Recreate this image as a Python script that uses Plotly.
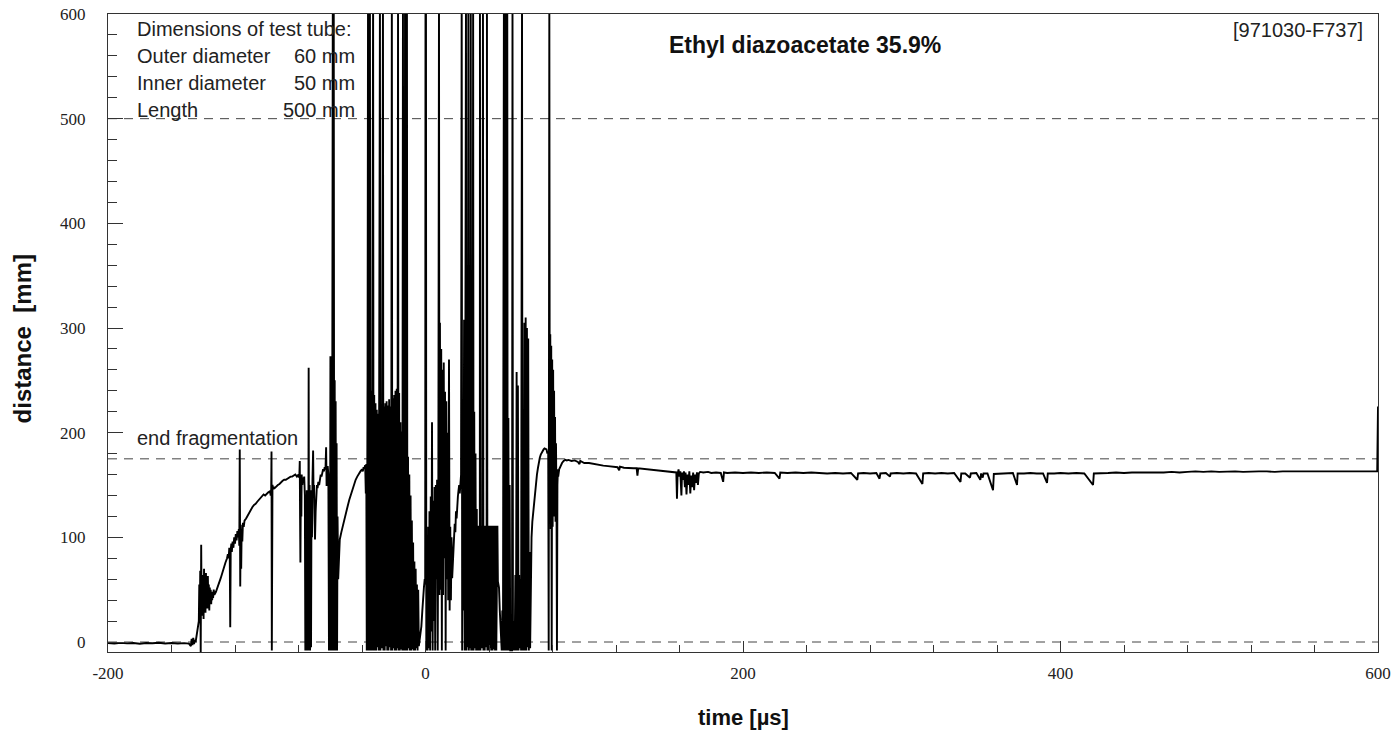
import plotly.graph_objects as go

# Streak record of the fragment front: (time in µs, distance in mm)
quiet = [(-200, -1), (-196, -1.5), (-192, -0.8), (-188, -1.3), (-184, -1), (-180, -1.6), (-176, -0.9),
         (-172, -1.2), (-168, -0.7), (-164, -1.4), (-160, -1), (-156, -1.5), (-152, -1.1), (-149, -1.6),
         (-147.8, -4), (-147.3, 3), (-146.8, -3), (-146.3, 4), (-145.8, -2), (-145.3, 2), (-144.8, 0),
         (-144.3, 5), (-143.8, 9), (-143.2, 14)]

ignition = [(-142.8, 20), (-142.5, 55), (-142.2, 22), (-141.9, 68), (-141.6, -10), (-141.3, 93), (-141.0, 25),
            (-140.7, 64), (-140.4, 30), (-140.1, 62), (-139.8, 22), (-139.5, 70), (-139.2, 35), (-138.9, 60),
            (-138.6, 28), (-138.3, 66), (-138.0, 40), (-137.7, 58), (-137.4, 32), (-137.1, 63), (-136.8, 38),
            (-136.5, 55), (-136.2, 30), (-135.9, 52), (-135.6, 42), (-135.3, 50), (-135.0, 36), (-134.7, 48),
            (-134.4, 40), (-134.1, 46), (-133.8, 42), (-133.4, 50), (-133.0, 45),
            (-132, 48), (-131, 52), (-130, 56), (-129, 61), (-128, 66), (-127, 72), (-126, 76), (-125, 80),
            (-124.5, 84), (-124, 80), (-123.6, 90), (-123.3, 82), (-123, 14), (-122.7, 88), (-122.3, 94),
            (-122, 86), (-121.5, 96), (-121, 90), (-120.5, 100), (-120, 94), (-119.5, 103), (-119, 97),
            (-118.5, 106), (-118, 100), (-117.6, 108), (-117.3, 92), (-117, 184), (-116.7, 53), (-116.4, 112),
            (-116.1, 70), (-115.8, 108), (-115.4, 96), (-115, 114), (-114.5, 110), (-114, 116)]

growth = [(-113, 118), (-112, 121), (-111, 124), (-110, 127), (-109, 129), (-108, 131), (-107, 132), (-106, 134),
          (-105, 136), (-104, 138), (-103, 139), (-102, 141), (-101, 140), (-100, 142), (-99, 143), (-98, 144),
          (-97.5, 140), (-97.2, 146), (-97, 182), (-96.8, -8), (-96.6, 140), (-96.4, 150), (-96, 146),
          (-95.5, 148), (-95, 147), (-94, 149), (-93, 150), (-92, 151), (-91, 153), (-90, 154), (-89, 155),
          (-88, 155), (-87, 156), (-86, 157), (-85, 158), (-84, 158), (-83, 159), (-82, 160), (-81, 158),
          (-80, 160), (-79.5, 157), (-79.2, 173), (-79, 118), (-78.8, 76), (-78.5, 150), (-78.2, 120),
          (-78, 160), (-77.6, 150), (-77.2, 157), (-76.8, 155), (-76.4, 158), (-76, 140), (-75.7, -8),
          (-75.4, 130), (-75.1, -8), (-74.8, 145), (-74.5, -8), (-74.2, 140), (-73.9, -6), (-73.6, 262),
          (-73.3, -8), (-73, 150), (-72.7, -8), (-72.4, 140), (-72.1, -5), (-71.8, 145), (-71.5, 100),
          (-71.2, 155), (-70.8, 183), (-70.5, 140), (-70.2, 150), (-69.9, 120), (-69.6, 98), (-69.2, 125),
          (-68.8, 140), (-68.4, 150), (-68, 147), (-67.5, 153), (-67, 150), (-66.5, 156), (-66, 160),
          (-65.5, 158), (-65, 162), (-64.5, 165), (-64, 163), (-63.5, 167), (-63, 165), (-62.6, 186),
          (-62.3, 149), (-62, 165), (-61.6, 168), (-61.2, 160)]

collapse = [(-60.8, -8), (-60.5, 150), (-60.2, -8), (-59.9, 273), (-59.6, -8), (-59.3, 200), (-59, -8),
            (-58.7, 260), (-58.4, 620), (-58.1, -8), (-57.8, 620), (-57.5, -8), (-57.2, 250), (-56.9, -8),
            (-56.6, 230), (-56.3, -8), (-56, 190), (-55.7, -8), (-55.4, 120), (-55, 60), (-54.5, 95),
            (-54, 98), (-53, 105), (-52, 112), (-51, 118), (-50, 124), (-49, 130), (-48, 136), (-47, 141),
            (-46, 146), (-45, 151), (-44, 155), (-43, 158), (-42, 161), (-41, 163), (-40, 165), (-39.5, 163),
            (-39, 167), (-38.5, 166), (-38, 169), (-37.6, 142), (-37.3, 170)]

breakup = [(-37.0, -8), (-36.5, 255), (-36.2, 620), (-35.9, -8), (-35.5, 262), (-35.0, 620), (-34.7, -8),
           (-34.3, 240), (-33.9, -8), (-33.5, 250), (-33.0, 620), (-32.7, -8), (-32.3, 236), (-31.9, -8),
           (-31.5, 228), (-31.1, -8), (-30.7, 222), (-30.3, -5), (-29.9, 218), (-29.5, -8), (-29.1, 215),
           (-28.7, 620), (-28.4, -8), (-28.0, 220), (-27.6, -6), (-27.2, 212), (-26.8, 620), (-26.5, -8),
           (-26.1, 225), (-25.7, -8), (-25.3, 228), (-24.9, -4), (-24.5, 230), (-24.1, -8), (-23.7, 226),
           (-23.3, -8), (-22.9, 232), (-22.5, -5), (-22.1, 225), (-21.7, -8), (-21.2, 620), (-20.9, -8),
           (-20.5, 233), (-20.1, -6), (-19.7, 236), (-19.3, -8), (-18.9, 240), (-18.5, -8), (-18.1, 242),
           (-17.7, -6), (-17.3, 620), (-17.0, -8), (-16.6, 238), (-16.2, -8), (-15.8, 210), (-15.4, -7),
           (-15.0, 201), (-14.6, -8), (-14.2, 620), (-13.9, -8), (-13.5, 195), (-13.1, -8), (-12.9, 620),
           (-12.6, -8), (-12.2, 185), (-11.7, 620), (-11.4, -8), (-11.0, 177), (-10.6, -6), (-10.2, 160),
           (-9.8, -8), (-9.4, 140), (-9.0, -8), (-8.6, 116), (-8.2, -7), (-7.8, 95), (-7.4, -8), (-7.0, 77),
           (-6.6, -8), (-6.2, 70), (-5.8, -6), (-5.4, 55), (-5.0, -8), (-4.6, 50), (-4.2, -4), (-3.8, 0),
           (-3.2, 5), (-2.6, 15), (-2.0, 30), (-1.5, 45), (-1.0, 52), (-0.5, 60)]

fragments = [(-0.2, 55), (0.0, 620), (0.3, 620), (0.5, -8), (0.9, 70), (1.3, -8), (1.7, 110), (2.1, -6),
             (2.5, 125), (2.9, -8), (3.3, 139), (3.7, 10), (4.1, 210), (4.5, -8), (4.9, 135), (5.3, 20),
             (5.7, 148), (6.1, -8), (6.5, 150), (6.9, 60), (7.3, 155), (7.7, -8), (8.1, 160), (8.5, 620),
             (8.8, 45), (9.1, 305), (9.5, 50), (9.9, 280), (10.3, -8), (10.7, 260), (11.1, 45), (11.5, 267),
             (11.9, 80), (12.3, 239), (12.7, -8), (13.1, 230), (13.5, 60), (13.9, 200), (14.3, 40), (14.8, 270),
             (15.2, 30), (15.6, 110), (16.0, 40), (16.4, 100), (16.8, 61), (17.2, 75), (17.6, 90), (18.0, 100),
             (18.4, 113), (18.8, 105), (19.2, 125), (19.6, 118), (20.0, 135), (20.4, 139), (20.8, 145),
             (21.2, 150), (21.6, 142), (22.0, 155), (22.4, 160), (22.8, 620), (23.1, -8), (23.5, 170),
             (23.9, 30), (24.3, 308), (24.7, -8), (25.1, 260), (25.5, 620), (25.8, -8), (26.2, 270),
             (26.6, -5), (27.0, 620), (27.3, -8), (27.7, 265), (28.1, -6), (28.5, 620), (28.8, -8),
             (29.2, 240), (29.6, -8), (30.0, 620), (30.3, -8), (30.7, 220), (31.1, -6), (31.5, 180),
             (31.9, -8), (32.3, 127), (32.7, -8), (33.0, 111), (33.4, -8), (33.8, 111), (34.2, -8),
             (34.3, 620), (34.6, -8), (35.0, 111), (35.4, -6), (35.8, 111), (36.2, 620), (36.5, -8),
             (36.9, 111), (37.3, -8), (37.7, 111), (38.1, -5), (38.5, 111), (38.7, 620), (39.0, -8),
             (39.4, 111), (39.8, -8), (40.2, 111), (40.6, -6), (41.0, 111), (41.4, -8), (41.8, 111),
             (42.2, -8), (42.6, 111), (43.0, -7), (43.4, 111), (43.8, -8), (44.2, 111), (44.6, -8),
             (45.0, 111), (45.3, 111), (45.6, 58), (46.3, 52), (46.8, 30), (47.6, -5)]

burst = [(48.0, -8), (48.4, 30), (48.8, -8), (49.4, 620), (49.7, -8), (50.1, 620), (50.4, -8), (50.8, 620),
         (51.1, -8), (51.5, 620), (51.8, -8), (52.2, 214), (52.6, -8), (53.0, 150), (53.4, -8), (54.5, -8),
         (54.8, 620), (55.1, -8), (55.6, 20), (56.2, -8), (56.6, 64), (57.0, -8), (57.4, 258), (57.8, -8),
         (58.2, 245), (58.6, -8), (59.0, 64), (59.4, -6), (59.8, 60), (60.2, -8), (60.8, 620), (61.1, -8),
         (61.5, 200), (61.9, -8), (62.3, 305), (62.7, -8), (63.1, 310), (63.5, -8), (63.9, 300), (64.3, -5),
         (64.7, 290), (65.1, -8), (65.5, 86), (65.9, -6), (66.3, 88), (66.8, 100), (67.3, 115), (67.8, 123),
         (68.4, 135), (69.0, 145), (69.6, 152), (70.2, 160), (70.8, 166), (71.4, 172), (72.0, 176),
         (72.6, 179), (73.2, 181), (73.8, 183), (74.4, 184), (75.0, 185), (75.6, 184), (76.2, 184),
         (76.8, 180), (77.3, 182), (77.6, -8), (78.0, 620), (78.3, 120), (78.6, 294), (78.9, 108),
         (79.2, 283), (79.5, -8), (79.8, 270), (80.1, 110), (80.4, 260), (80.7, 120), (81.0, 240),
         (81.3, 130), (81.6, 215), (81.9, 115), (82.2, 190), (82.5, 140), (82.8, -8), (83.1, 150), (83.4, 165)]

settled = [(83.6, 158), (84.2, 165), (85, 168), (86, 171), (87, 173), (88, 174), (89, 173.5), (90, 174),
           (92, 173), (94, 173.5), (96, 172), (97, 170), (97.5, 173), (100, 171), (103, 171), (106, 170),
           (109, 169), (112, 168.5), (115, 168), (118, 167.5), (121, 167), (122, 164), (122.5, 167.5),
           (125, 166.5), (128, 166), (131, 166), (133, 166), (133.5, 159), (134, 166), (137, 165.5),
           (140, 165), (143, 164.5), (146, 164), (149, 163.5), (152, 163), (155, 162.5), (158, 162),
           (158.4, 137), (158.8, 160), (159.4, 165), (160, 158), (160.5, 163), (161.2, 140), (161.6, 162),
           (162.2, 155), (162.8, 163), (163.4, 148), (163.8, 162), (164.4, 141), (165, 160), (165.6, 150),
           (166.2, 163), (166.8, 142), (167.4, 159), (168, 148), (168.6, 162), (169.2, 145), (169.8, 160),
           (170.4, 152), (171, 162), (171.6, 150), (172.2, 161), (173, 162.5), (175, 162), (178, 162.5),
           (180, 161.5), (183, 162), (186, 161.5), (187.5, 153), (188, 162), (190, 161.5), (195, 162),
           (200, 161.5), (205, 162), (210, 161.5), (215, 162), (220, 161.5), (223, 156), (223.5, 162),
           (228, 161.5), (233, 162), (238, 161.5), (243, 162), (248, 161.5), (253, 161), (258, 161.5),
           (263, 161), (268, 161.5), (272, 155), (272.5, 161), (276, 161.5), (280, 161), (284, 161.5),
           (286, 156), (286.5, 161), (290, 161.5), (292.6, 158), (293, 161), (297, 161.5), (301, 161),
           (305, 161.5), (309, 161), (313, 151), (313.5, 161), (317, 161.5), (321, 161), (325, 161.5),
           (329, 161), (333, 161.5), (337, 153), (337.5, 161), (340, 161), (343, 157), (343.5, 161),
           (347, 161.5), (349.5, 155), (350, 161), (351, 157), (351.5, 161), (354, 161), (357.5, 145),
           (358, 160.5), (362, 161), (366, 161), (370, 161.5), (372.6, 150), (373, 161), (377, 161),
           (381, 161.5), (385, 161), (389, 161), (391.5, 152), (392, 161), (396, 161), (400, 161.5),
           (405, 161), (410, 161.5), (415, 161), (420.5, 150), (421, 161), (425, 161.5), (430, 161.5),
           (435, 162), (440, 161.5), (445, 162), (450, 162), (455, 161.5), (460, 162), (465, 162),
           (470, 162.5), (475, 162), (480, 162.5), (485, 163), (490, 162.5), (495, 163), (500, 162.5),
           (505, 163), (510, 163), (515, 162.5), (520, 163), (525, 163), (530, 163), (535, 162.5),
           (540, 163), (545, 163), (550, 163), (555, 162.5), (560, 163), (565, 163), (570, 162.5),
           (575, 163), (580, 163), (585, 162.5), (590, 163), (595, 163), (598, 163), (599.5, 163), (600, 225)]

# Reference levels: zero, end of fragmentation, tube length
ref_levels = [0, 175, 500]

x_ticks = [-200, 0, 200, 400, 600]
x_minor = [-160, -120, -80, -40, 40, 80, 120, 160, 240, 280, 320, 360, 440, 480, 520, 560]
y_ticks = [0, 100, 200, 300, 400, 500, 600]
y_minor = [v for v in range(20, 600, 20) if v % 100]

tube_labels = ["Dimensions of test tube:", "Outer diameter", "Inner diameter", "Length"]
tube_values = ["", "60 mm", "50 mm", "500 mm"]

segments = [quiet, ignition, growth, collapse, breakup, fragments, burst, settled]
t = [p[0] for seg in segments for p in seg]
d = [p[1] for seg in segments for p in seg]

fig = go.Figure()
fig.add_trace(go.Scatter(x=t, y=d, mode="lines",
                         line=dict(color="black", width=1.9),
                         showlegend=False, hoverinfo="skip"))

for lvl in ref_levels:
    fig.add_shape(type="line", xref="paper", x0=0, x1=1, yref="y", y0=lvl, y1=lvl,
                  line=dict(color="#444", width=1, dash="9px,7px"), layer="below")

label_font = dict(family="Liberation Sans, Arial, sans-serif", size=20, color="#222")
tick_font = dict(family="Liberation Serif, Times New Roman, serif", size=17, color="#222")
title_font = dict(family="Liberation Sans, Arial, sans-serif", size=22, color="#111")

row_y = [0.9765, 0.9342, 0.8918, 0.8495]
for lab, val, yy in zip(tube_labels, tube_values, row_y):
    fig.add_annotation(text=lab, xref="paper", yref="paper", x=0.0213, y=yy,
                       xanchor="left", yanchor="middle", showarrow=False, font=label_font)
    if val:
        fig.add_annotation(text=val, xref="paper", yref="paper", x=0.196, y=yy,
                           xanchor="right", yanchor="middle", showarrow=False, font=label_font)

fig.add_annotation(text="end fragmentation", xref="paper", yref="paper", x=0.0213, y=0.3354,
                   xanchor="left", yanchor="middle", showarrow=False, font=label_font)
fig.add_annotation(text="<b>Ethyl diazoacetate 35.9%</b>", xref="paper", yref="paper", x=0.5488, y=0.9514,
                   xanchor="center", yanchor="middle", showarrow=False,
                   font=dict(family="Liberation Sans, Arial, sans-serif", size=23, color="#111"))
fig.add_annotation(text="[971030-F737]", xref="paper", yref="paper", x=0.9898, y=0.975,
                   xanchor="right", yanchor="middle", showarrow=False, font=label_font)
fig.add_annotation(text="<b>time [µs]</b>", xref="paper", yref="paper", x=0.5, y=-0.1034,
                   xanchor="center", yanchor="middle", showarrow=False, font=title_font)
fig.add_annotation(text="<b>distance  [mm]</b>", xref="paper", yref="paper", x=-0.0677, y=0.49,
                   xanchor="center", yanchor="middle", textangle=-90, showarrow=False,
                   font=dict(family="Liberation Sans, Arial, sans-serif", size=24, color="#111"))

fig.update_xaxes(range=[-200, 600], showgrid=False, zeroline=False, showline=True, linecolor="#333",
                 linewidth=1, mirror=True, ticks="inside", ticklen=11, tickcolor="#333",
                 tickmode="array", tickvals=x_ticks, ticktext=[str(v) for v in x_ticks],
                 tickfont=tick_font, ticklabelstandoff=6, automargin=False,
                 minor=dict(tickmode="array", tickvals=x_minor, ticks="inside", ticklen=7,
                            tickcolor="#333", showgrid=False))
fig.update_yaxes(range=[-9.55, 600], showgrid=False, zeroline=False, showline=True, linecolor="#333",
                 linewidth=1, mirror=True, ticks="inside", ticklen=15, tickcolor="#333",
                 tickmode="array", tickvals=y_ticks, ticktext=[str(v) for v in y_ticks],
                 tickfont=tick_font, ticklabelstandoff=18, automargin=False,
                 minor=dict(tickmode="array", tickvals=y_minor, ticks="inside", ticklen=9,
                            tickcolor="#333", showgrid=False))

fig.update_layout(width=1399, height=731, margin=dict(l=108, r=21, t=14, b=79, autoexpand=False),
                  plot_bgcolor="white", paper_bgcolor="white")

fig.write_html("out.html")
